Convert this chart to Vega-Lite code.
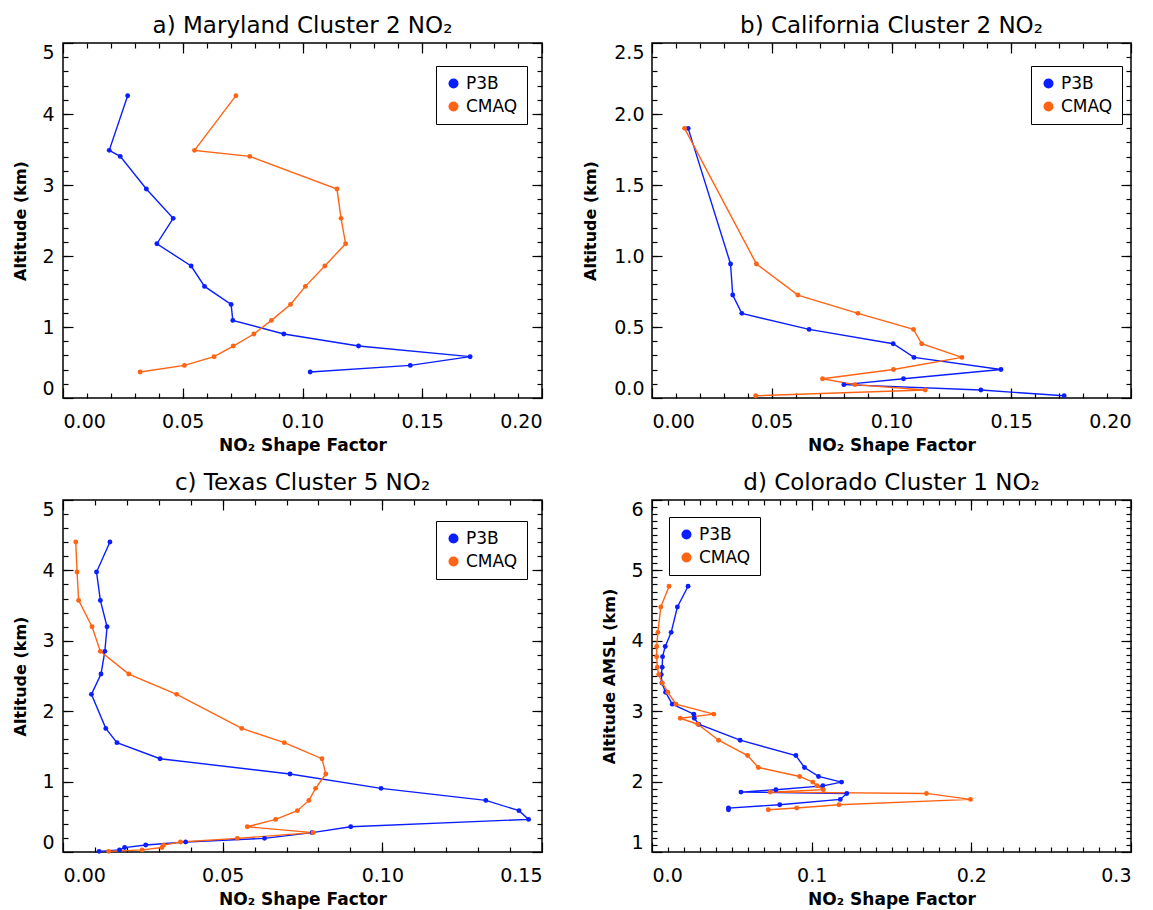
{
  "$schema": "https://vega.github.io/schema/vega-lite/v6.json",
  "background": "white",
  "padding": {"left": 12, "top": 14, "right": 5, "bottom": 5},
  "columns": 2,
  "bounds": "flush",
  "spacing": {"row": 102, "column": 110},
  "data": {"values": [
    {"panel": "a", "source": "P3B", "nsf": 0.0270, "alt": 4.258},
    {"panel": "a", "source": "P3B", "nsf": 0.0193, "alt": 3.488},
    {"panel": "a", "source": "P3B", "nsf": 0.0239, "alt": 3.403},
    {"panel": "a", "source": "P3B", "nsf": 0.0348, "alt": 2.943},
    {"panel": "a", "source": "P3B", "nsf": 0.0460, "alt": 2.530},
    {"panel": "a", "source": "P3B", "nsf": 0.0392, "alt": 2.173},
    {"panel": "a", "source": "P3B", "nsf": 0.0535, "alt": 1.859},
    {"panel": "a", "source": "P3B", "nsf": 0.0591, "alt": 1.572},
    {"panel": "a", "source": "P3B", "nsf": 0.0702, "alt": 1.318},
    {"panel": "a", "source": "P3B", "nsf": 0.0709, "alt": 1.093},
    {"panel": "a", "source": "P3B", "nsf": 0.0922, "alt": 0.901},
    {"panel": "a", "source": "P3B", "nsf": 0.1234, "alt": 0.732},
    {"panel": "a", "source": "P3B", "nsf": 0.1700, "alt": 0.582},
    {"panel": "a", "source": "P3B", "nsf": 0.1450, "alt": 0.459},
    {"panel": "a", "source": "P3B", "nsf": 0.1032, "alt": 0.366},
    {"panel": "a", "source": "CMAQ", "nsf": 0.0722, "alt": 4.258},
    {"panel": "a", "source": "CMAQ", "nsf": 0.0549, "alt": 3.488},
    {"panel": "a", "source": "CMAQ", "nsf": 0.0780, "alt": 3.403},
    {"panel": "a", "source": "CMAQ", "nsf": 0.1144, "alt": 2.943},
    {"panel": "a", "source": "CMAQ", "nsf": 0.1161, "alt": 2.530},
    {"panel": "a", "source": "CMAQ", "nsf": 0.1180, "alt": 2.173},
    {"panel": "a", "source": "CMAQ", "nsf": 0.1093, "alt": 1.859},
    {"panel": "a", "source": "CMAQ", "nsf": 0.1012, "alt": 1.572},
    {"panel": "a", "source": "CMAQ", "nsf": 0.0950, "alt": 1.318},
    {"panel": "a", "source": "CMAQ", "nsf": 0.0870, "alt": 1.093},
    {"panel": "a", "source": "CMAQ", "nsf": 0.0797, "alt": 0.901},
    {"panel": "a", "source": "CMAQ", "nsf": 0.0711, "alt": 0.732},
    {"panel": "a", "source": "CMAQ", "nsf": 0.0631, "alt": 0.582},
    {"panel": "a", "source": "CMAQ", "nsf": 0.0507, "alt": 0.459},
    {"panel": "a", "source": "CMAQ", "nsf": 0.0322, "alt": 0.366},

    {"panel": "b", "source": "P3B", "nsf": 0.0151, "alt": 1.899},
    {"panel": "b", "source": "P3B", "nsf": 0.0328, "alt": 0.944},
    {"panel": "b", "source": "P3B", "nsf": 0.0337, "alt": 0.725},
    {"panel": "b", "source": "P3B", "nsf": 0.0375, "alt": 0.596},
    {"panel": "b", "source": "P3B", "nsf": 0.0656, "alt": 0.483},
    {"panel": "b", "source": "P3B", "nsf": 0.1007, "alt": 0.382},
    {"panel": "b", "source": "P3B", "nsf": 0.1094, "alt": 0.286},
    {"panel": "b", "source": "P3B", "nsf": 0.1457, "alt": 0.201},
    {"panel": "b", "source": "P3B", "nsf": 0.1050, "alt": 0.136},
    {"panel": "b", "source": "P3B", "nsf": 0.0801, "alt": 0.094},
    {"panel": "b", "source": "P3B", "nsf": 0.1373, "alt": 0.056},
    {"panel": "b", "source": "P3B", "nsf": 0.1721, "alt": 0.016},
    {"panel": "b", "source": "CMAQ", "nsf": 0.0136, "alt": 1.899},
    {"panel": "b", "source": "CMAQ", "nsf": 0.0436, "alt": 0.944},
    {"panel": "b", "source": "CMAQ", "nsf": 0.0609, "alt": 0.725},
    {"panel": "b", "source": "CMAQ", "nsf": 0.0860, "alt": 0.596},
    {"panel": "b", "source": "CMAQ", "nsf": 0.1092, "alt": 0.483},
    {"panel": "b", "source": "CMAQ", "nsf": 0.1126, "alt": 0.382},
    {"panel": "b", "source": "CMAQ", "nsf": 0.1294, "alt": 0.286},
    {"panel": "b", "source": "CMAQ", "nsf": 0.1008, "alt": 0.201},
    {"panel": "b", "source": "CMAQ", "nsf": 0.0712, "alt": 0.136},
    {"panel": "b", "source": "CMAQ", "nsf": 0.0847, "alt": 0.094},
    {"panel": "b", "source": "CMAQ", "nsf": 0.1141, "alt": 0.056},
    {"panel": "b", "source": "CMAQ", "nsf": 0.0433, "alt": 0.016},

    {"panel": "c", "source": "P3B", "nsf": 0.0147, "alt": 4.403},
    {"panel": "c", "source": "P3B", "nsf": 0.0105, "alt": 3.977},
    {"panel": "c", "source": "P3B", "nsf": 0.0117, "alt": 3.574},
    {"panel": "c", "source": "P3B", "nsf": 0.0138, "alt": 3.200},
    {"panel": "c", "source": "P3B", "nsf": 0.0131, "alt": 2.850},
    {"panel": "c", "source": "P3B", "nsf": 0.0119, "alt": 2.528},
    {"panel": "c", "source": "P3B", "nsf": 0.0089, "alt": 2.239},
    {"panel": "c", "source": "P3B", "nsf": 0.0134, "alt": 1.756},
    {"panel": "c", "source": "P3B", "nsf": 0.0169, "alt": 1.553},
    {"panel": "c", "source": "P3B", "nsf": 0.0304, "alt": 1.325},
    {"panel": "c", "source": "P3B", "nsf": 0.0711, "alt": 1.108},
    {"panel": "c", "source": "P3B", "nsf": 0.0996, "alt": 0.904},
    {"panel": "c", "source": "P3B", "nsf": 0.1324, "alt": 0.733},
    {"panel": "c", "source": "P3B", "nsf": 0.1428, "alt": 0.587},
    {"panel": "c", "source": "P3B", "nsf": 0.1458, "alt": 0.463},
    {"panel": "c", "source": "P3B", "nsf": 0.0901, "alt": 0.359},
    {"panel": "c", "source": "P3B", "nsf": 0.0780, "alt": 0.275},
    {"panel": "c", "source": "P3B", "nsf": 0.0631, "alt": 0.194},
    {"panel": "c", "source": "P3B", "nsf": 0.0384, "alt": 0.142},
    {"panel": "c", "source": "P3B", "nsf": 0.0259, "alt": 0.099},
    {"panel": "c", "source": "P3B", "nsf": 0.0193, "alt": 0.063},
    {"panel": "c", "source": "P3B", "nsf": 0.0177, "alt": 0.030},
    {"panel": "c", "source": "P3B", "nsf": 0.0113, "alt": 0.009},
    {"panel": "c", "source": "CMAQ", "nsf": 0.0040, "alt": 4.403},
    {"panel": "c", "source": "CMAQ", "nsf": 0.0044, "alt": 3.977},
    {"panel": "c", "source": "CMAQ", "nsf": 0.0049, "alt": 3.574},
    {"panel": "c", "source": "CMAQ", "nsf": 0.0091, "alt": 3.200},
    {"panel": "c", "source": "CMAQ", "nsf": 0.0117, "alt": 2.850},
    {"panel": "c", "source": "CMAQ", "nsf": 0.0206, "alt": 2.528},
    {"panel": "c", "source": "CMAQ", "nsf": 0.0356, "alt": 2.239},
    {"panel": "c", "source": "CMAQ", "nsf": 0.0560, "alt": 1.756},
    {"panel": "c", "source": "CMAQ", "nsf": 0.0693, "alt": 1.553},
    {"panel": "c", "source": "CMAQ", "nsf": 0.0811, "alt": 1.325},
    {"panel": "c", "source": "CMAQ", "nsf": 0.0823, "alt": 1.108},
    {"panel": "c", "source": "CMAQ", "nsf": 0.0791, "alt": 0.904},
    {"panel": "c", "source": "CMAQ", "nsf": 0.0770, "alt": 0.733},
    {"panel": "c", "source": "CMAQ", "nsf": 0.0734, "alt": 0.587},
    {"panel": "c", "source": "CMAQ", "nsf": 0.0666, "alt": 0.463},
    {"panel": "c", "source": "CMAQ", "nsf": 0.0577, "alt": 0.359},
    {"panel": "c", "source": "CMAQ", "nsf": 0.0783, "alt": 0.275},
    {"panel": "c", "source": "CMAQ", "nsf": 0.0546, "alt": 0.194},
    {"panel": "c", "source": "CMAQ", "nsf": 0.0368, "alt": 0.142},
    {"panel": "c", "source": "CMAQ", "nsf": 0.0315, "alt": 0.099},
    {"panel": "c", "source": "CMAQ", "nsf": 0.0310, "alt": 0.063},
    {"panel": "c", "source": "CMAQ", "nsf": 0.0248, "alt": 0.030},
    {"panel": "c", "source": "CMAQ", "nsf": 0.0143, "alt": 0.009},

    {"panel": "d", "source": "P3B", "nsf": 0.0226, "alt": 4.775},
    {"panel": "d", "source": "P3B", "nsf": 0.0159, "alt": 4.480},
    {"panel": "d", "source": "P3B", "nsf": 0.0120, "alt": 4.120},
    {"panel": "d", "source": "P3B", "nsf": 0.0083, "alt": 3.920},
    {"panel": "d", "source": "P3B", "nsf": 0.0066, "alt": 3.775},
    {"panel": "d", "source": "P3B", "nsf": 0.0064, "alt": 3.625},
    {"panel": "d", "source": "P3B", "nsf": 0.0058, "alt": 3.520},
    {"panel": "d", "source": "P3B", "nsf": 0.0062, "alt": 3.400},
    {"panel": "d", "source": "P3B", "nsf": 0.0085, "alt": 3.270},
    {"panel": "d", "source": "P3B", "nsf": 0.0127, "alt": 3.100},
    {"panel": "d", "source": "P3B", "nsf": 0.0262, "alt": 2.958},
    {"panel": "d", "source": "P3B", "nsf": 0.0265, "alt": 2.900},
    {"panel": "d", "source": "P3B", "nsf": 0.0292, "alt": 2.815},
    {"panel": "d", "source": "P3B", "nsf": 0.0552, "alt": 2.588},
    {"panel": "d", "source": "P3B", "nsf": 0.0901, "alt": 2.370},
    {"panel": "d", "source": "P3B", "nsf": 0.0955, "alt": 2.200},
    {"panel": "d", "source": "P3B", "nsf": 0.1043, "alt": 2.073},
    {"panel": "d", "source": "P3B", "nsf": 0.1187, "alt": 1.993},
    {"panel": "d", "source": "P3B", "nsf": 0.1070, "alt": 1.940},
    {"panel": "d", "source": "P3B", "nsf": 0.0776, "alt": 1.884},
    {"panel": "d", "source": "P3B", "nsf": 0.0557, "alt": 1.851},
    {"panel": "d", "source": "P3B", "nsf": 0.1220, "alt": 1.832},
    {"panel": "d", "source": "P3B", "nsf": 0.1179, "alt": 1.747},
    {"panel": "d", "source": "P3B", "nsf": 0.0800, "alt": 1.671},
    {"panel": "d", "source": "P3B", "nsf": 0.0479, "alt": 1.624},
    {"panel": "d", "source": "P3B", "nsf": 0.0479, "alt": 1.600},
    {"panel": "d", "source": "CMAQ", "nsf": 0.0107, "alt": 4.775},
    {"panel": "d", "source": "CMAQ", "nsf": 0.0055, "alt": 4.480},
    {"panel": "d", "source": "CMAQ", "nsf": 0.0037, "alt": 4.120},
    {"panel": "d", "source": "CMAQ", "nsf": 0.0029, "alt": 3.920},
    {"panel": "d", "source": "CMAQ", "nsf": 0.0029, "alt": 3.775},
    {"panel": "d", "source": "CMAQ", "nsf": 0.0033, "alt": 3.625},
    {"panel": "d", "source": "CMAQ", "nsf": 0.0042, "alt": 3.520},
    {"panel": "d", "source": "CMAQ", "nsf": 0.0065, "alt": 3.400},
    {"panel": "d", "source": "CMAQ", "nsf": 0.0099, "alt": 3.270},
    {"panel": "d", "source": "CMAQ", "nsf": 0.0150, "alt": 3.100},
    {"panel": "d", "source": "CMAQ", "nsf": 0.0387, "alt": 2.958},
    {"panel": "d", "source": "CMAQ", "nsf": 0.0177, "alt": 2.900},
    {"panel": "d", "source": "CMAQ", "nsf": 0.0287, "alt": 2.815},
    {"panel": "d", "source": "CMAQ", "nsf": 0.0417, "alt": 2.588},
    {"panel": "d", "source": "CMAQ", "nsf": 0.0599, "alt": 2.370},
    {"panel": "d", "source": "CMAQ", "nsf": 0.0666, "alt": 2.200},
    {"panel": "d", "source": "CMAQ", "nsf": 0.0925, "alt": 2.073},
    {"panel": "d", "source": "CMAQ", "nsf": 0.1007, "alt": 1.993},
    {"panel": "d", "source": "CMAQ", "nsf": 0.1033, "alt": 1.940},
    {"panel": "d", "source": "CMAQ", "nsf": 0.1073, "alt": 1.884},
    {"panel": "d", "source": "CMAQ", "nsf": 0.0740, "alt": 1.851},
    {"panel": "d", "source": "CMAQ", "nsf": 0.1719, "alt": 1.832},
    {"panel": "d", "source": "CMAQ", "nsf": 0.1995, "alt": 1.747},
    {"panel": "d", "source": "CMAQ", "nsf": 0.1171, "alt": 1.671},
    {"panel": "d", "source": "CMAQ", "nsf": 0.0906, "alt": 1.624},
    {"panel": "d", "source": "CMAQ", "nsf": 0.0728, "alt": 1.600}
  ]},
  "concat": [
    {
      "width": 479, "height": 355,
      "title": "a) Maryland Cluster 2 NO₂",
      "transform": [{"filter": "datum.panel == 'a'"}],
      "resolve": {"scale": {"x": "independent", "y": "independent"}, "axis": {"x": "independent", "y": "independent"}},
      "layer": [
        {"mark": {"type": "line", "strokeWidth": 1.4},
         "encoding": {
           "x": {"field": "nsf", "type": "quantitative", "scale": {"domain": [0, 0.2], "nice": false}, "axis": {"orient": "bottom", "offset": 0, "title": "NO₂ Shape Factor", "values": [0, 0.05, 0.1, 0.15, 0.2], "format": ".2f", "tickSize": -10, "labelPadding": 24, "titlePadding": 6}},
           "y": {"field": "alt", "type": "quantitative", "scale": {"domain": [0, 5], "nice": false}, "axis": {"orient": "left", "offset": 0, "title": "Altitude (km)", "values": [0, 1, 2, 3, 4, 5], "format": ".0f", "tickSize": -10, "labelPadding": 19, "titlePadding": 13, "labelFlush": true}},
           "order": {"field": "alt", "type": "quantitative"},
           "stroke": {"field": "source", "type": "nominal", "scale": {"domain": ["P3B", "CMAQ"], "range": ["#0a1eff", "#ff6414"]}, "legend": null}
         }},
        {"mark": {"type": "point", "filled": true, "size": 24, "opacity": 1},
         "encoding": {
           "x": {"field": "nsf", "type": "quantitative", "scale": {"domain": [0, 0.2], "nice": false}, "axis": {"orient": "top", "offset": 0, "title": null, "labels": false, "values": [0, 0.05, 0.1, 0.15, 0.2], "tickSize": -10}},
           "y": {"field": "alt", "type": "quantitative", "scale": {"domain": [0, 5], "nice": false}, "axis": {"orient": "right", "offset": 0, "title": null, "labels": false, "values": [0, 1, 2, 3, 4, 5], "tickSize": -10}},
           "color": {"field": "source", "type": "nominal", "scale": {"domain": ["P3B", "CMAQ"], "range": ["#0a1eff", "#ff6414"]},
             "legend": {"orient": "none", "legendX": 373, "legendY": 23, "title": null}}
         }},
        {"mark": {"type": "point", "opacity": 0},
         "encoding": {
           "x": {"field": "nsf", "type": "quantitative", "scale": {"domain": [0, 0.2], "nice": false}, "axis": {"orient": "bottom", "offset": 0, "title": null, "labels": false, "tickSize": -5, "values": [0.01,0.02,0.03,0.04,0.05,0.06,0.07,0.08,0.09,0.1,0.11,0.12,0.13,0.14,0.15,0.16,0.17,0.18,0.19]}},
           "y": {"field": "alt", "type": "quantitative", "scale": {"domain": [0, 5], "nice": false}, "axis": {"orient": "left", "offset": 0, "title": null, "labels": false, "tickSize": -5, "values": [0.2,0.4,0.6,0.8,1,1.2,1.4,1.6,1.8,2,2.2,2.4,2.6,2.8,3,3.2,3.4,3.6,3.8,4,4.2,4.4,4.6,4.8]}}
         }},
        {"mark": {"type": "point", "opacity": 0},
         "encoding": {
           "x": {"field": "nsf", "type": "quantitative", "scale": {"domain": [0, 0.2], "nice": false}, "axis": {"orient": "top", "offset": 0, "title": null, "labels": false, "tickSize": -5, "values": [0.01,0.02,0.03,0.04,0.05,0.06,0.07,0.08,0.09,0.1,0.11,0.12,0.13,0.14,0.15,0.16,0.17,0.18,0.19]}},
           "y": {"field": "alt", "type": "quantitative", "scale": {"domain": [0, 5], "nice": false}, "axis": {"orient": "right", "offset": 0, "title": null, "labels": false, "tickSize": -5, "values": [0.2,0.4,0.6,0.8,1,1.2,1.4,1.6,1.8,2,2.2,2.4,2.6,2.8,3,3.2,3.4,3.6,3.8,4,4.2,4.4,4.6,4.8]}}
         }}
      ]
    },
    {
      "width": 479, "height": 355,
      "title": "b) California Cluster 2 NO₂",
      "transform": [{"filter": "datum.panel == 'b'"}],
      "resolve": {"scale": {"x": "independent", "y": "independent"}, "axis": {"x": "independent", "y": "independent"}},
      "layer": [
        {"mark": {"type": "line", "strokeWidth": 1.4},
         "encoding": {
           "x": {"field": "nsf", "type": "quantitative", "scale": {"domain": [0, 0.2], "nice": false}, "axis": {"orient": "bottom", "offset": 0, "title": "NO₂ Shape Factor", "values": [0, 0.05, 0.1, 0.15, 0.2], "format": ".2f", "tickSize": -10, "labelPadding": 24, "titlePadding": 6}},
           "y": {"field": "alt", "type": "quantitative", "scale": {"domain": [0, 2.5], "nice": false}, "axis": {"orient": "left", "offset": 0, "title": "Altitude (km)", "values": [0, 0.5, 1, 1.5, 2, 2.5], "format": ".1f", "tickSize": -10, "labelPadding": 18, "titlePadding": 15, "labelFlush": true}},
           "order": {"field": "alt", "type": "quantitative"},
           "stroke": {"field": "source", "type": "nominal", "scale": {"domain": ["P3B", "CMAQ"], "range": ["#0a1eff", "#ff6414"]}, "legend": null}
         }},
        {"mark": {"type": "point", "filled": true, "size": 24, "opacity": 1},
         "encoding": {
           "x": {"field": "nsf", "type": "quantitative", "scale": {"domain": [0, 0.2], "nice": false}, "axis": {"orient": "top", "offset": 0, "title": null, "labels": false, "values": [0, 0.05, 0.1, 0.15, 0.2], "tickSize": -10}},
           "y": {"field": "alt", "type": "quantitative", "scale": {"domain": [0, 2.5], "nice": false}, "axis": {"orient": "right", "offset": 0, "title": null, "labels": false, "values": [0, 0.5, 1, 1.5, 2, 2.5], "tickSize": -10}},
           "color": {"field": "source", "type": "nominal", "scale": {"domain": ["P3B", "CMAQ"], "range": ["#0a1eff", "#ff6414"]},
             "legend": {"orient": "none", "legendX": 379, "legendY": 23, "title": null, "direction": "vertical"}}
         }},
        {"mark": {"type": "point", "opacity": 0},
         "encoding": {
           "x": {"field": "nsf", "type": "quantitative", "scale": {"domain": [0, 0.2], "nice": false}, "axis": {"orient": "bottom", "offset": 0, "title": null, "labels": false, "tickSize": -5, "values": [0.01,0.02,0.03,0.04,0.05,0.06,0.07,0.08,0.09,0.1,0.11,0.12,0.13,0.14,0.15,0.16,0.17,0.18,0.19]}},
           "y": {"field": "alt", "type": "quantitative", "scale": {"domain": [0, 2.5], "nice": false}, "axis": {"orient": "left", "offset": 0, "title": null, "labels": false, "tickSize": -5, "values": [0.1,0.2,0.3,0.4,0.5,0.6,0.7,0.8,0.9,1,1.1,1.2,1.3,1.4,1.5,1.6,1.7,1.8,1.9,2,2.1,2.2,2.3,2.4]}}
         }},
        {"mark": {"type": "point", "opacity": 0},
         "encoding": {
           "x": {"field": "nsf", "type": "quantitative", "scale": {"domain": [0, 0.2], "nice": false}, "axis": {"orient": "top", "offset": 0, "title": null, "labels": false, "tickSize": -5, "values": [0.01,0.02,0.03,0.04,0.05,0.06,0.07,0.08,0.09,0.1,0.11,0.12,0.13,0.14,0.15,0.16,0.17,0.18,0.19]}},
           "y": {"field": "alt", "type": "quantitative", "scale": {"domain": [0, 2.5], "nice": false}, "axis": {"orient": "right", "offset": 0, "title": null, "labels": false, "tickSize": -5, "values": [0.1,0.2,0.3,0.4,0.5,0.6,0.7,0.8,0.9,1,1.1,1.2,1.3,1.4,1.5,1.6,1.7,1.8,1.9,2,2.1,2.2,2.3,2.4]}}
         }}
      ]
    },
    {
      "width": 479, "height": 352,
      "title": "c) Texas Cluster 5 NO₂",
      "transform": [{"filter": "datum.panel == 'c'"}],
      "resolve": {"scale": {"x": "independent", "y": "independent"}, "axis": {"x": "independent", "y": "independent"}},
      "layer": [
        {"mark": {"type": "line", "strokeWidth": 1.4},
         "encoding": {
           "x": {"field": "nsf", "type": "quantitative", "scale": {"domain": [0, 0.15], "nice": false}, "axis": {"orient": "bottom", "offset": 0, "title": "NO₂ Shape Factor", "values": [0, 0.05, 0.1, 0.15], "format": ".2f", "tickSize": -10, "labelPadding": 24, "titlePadding": 6}},
           "y": {"field": "alt", "type": "quantitative", "scale": {"domain": [0, 5], "nice": false}, "axis": {"orient": "left", "offset": 0, "title": "Altitude (km)", "values": [0, 1, 2, 3, 4, 5], "format": ".0f", "tickSize": -10, "labelPadding": 19, "titlePadding": 13, "labelFlush": true}},
           "order": {"field": "alt", "type": "quantitative"},
           "stroke": {"field": "source", "type": "nominal", "scale": {"domain": ["P3B", "CMAQ"], "range": ["#0a1eff", "#ff6414"]}, "legend": null}
         }},
        {"mark": {"type": "point", "filled": true, "size": 24, "opacity": 1},
         "encoding": {
           "x": {"field": "nsf", "type": "quantitative", "scale": {"domain": [0, 0.15], "nice": false}, "axis": {"orient": "top", "offset": 0, "title": null, "labels": false, "values": [0, 0.05, 0.1, 0.15], "tickSize": -10}},
           "y": {"field": "alt", "type": "quantitative", "scale": {"domain": [0, 5], "nice": false}, "axis": {"orient": "right", "offset": 0, "title": null, "labels": false, "values": [0, 1, 2, 3, 4, 5], "tickSize": -10}},
           "color": {"field": "source", "type": "nominal", "scale": {"domain": ["P3B", "CMAQ"], "range": ["#0a1eff", "#ff6414"]},
             "legend": {"orient": "none", "legendX": 373, "legendY": 21, "title": null}}
         }},
        {"mark": {"type": "point", "opacity": 0},
         "encoding": {
           "x": {"field": "nsf", "type": "quantitative", "scale": {"domain": [0, 0.15], "nice": false}, "axis": {"orient": "bottom", "offset": 0, "title": null, "labels": false, "tickSize": -5, "values": [0.01,0.02,0.03,0.04,0.05,0.06,0.07,0.08,0.09,0.1,0.11,0.12,0.13,0.14]}},
           "y": {"field": "alt", "type": "quantitative", "scale": {"domain": [0, 5], "nice": false}, "axis": {"orient": "left", "offset": 0, "title": null, "labels": false, "tickSize": -5, "values": [0.2,0.4,0.6,0.8,1,1.2,1.4,1.6,1.8,2,2.2,2.4,2.6,2.8,3,3.2,3.4,3.6,3.8,4,4.2,4.4,4.6,4.8]}}
         }},
        {"mark": {"type": "point", "opacity": 0},
         "encoding": {
           "x": {"field": "nsf", "type": "quantitative", "scale": {"domain": [0, 0.15], "nice": false}, "axis": {"orient": "top", "offset": 0, "title": null, "labels": false, "tickSize": -5, "values": [0.01,0.02,0.03,0.04,0.05,0.06,0.07,0.08,0.09,0.1,0.11,0.12,0.13,0.14]}},
           "y": {"field": "alt", "type": "quantitative", "scale": {"domain": [0, 5], "nice": false}, "axis": {"orient": "right", "offset": 0, "title": null, "labels": false, "tickSize": -5, "values": [0.2,0.4,0.6,0.8,1,1.2,1.4,1.6,1.8,2,2.2,2.4,2.6,2.8,3,3.2,3.4,3.6,3.8,4,4.2,4.4,4.6,4.8]}}
         }}
      ]
    },
    {
      "width": 479, "height": 352,
      "title": "d) Colorado Cluster 1 NO₂",
      "transform": [{"filter": "datum.panel == 'd'"}],
      "resolve": {"scale": {"x": "independent", "y": "independent"}, "axis": {"x": "independent", "y": "independent"}},
      "layer": [
        {"mark": {"type": "line", "strokeWidth": 1.4},
         "encoding": {
           "x": {"field": "nsf", "type": "quantitative", "scale": {"domain": [0, 0.3], "nice": false}, "axis": {"orient": "bottom", "offset": 0, "title": "NO₂ Shape Factor", "values": [0, 0.1, 0.2, 0.3], "format": ".1f", "tickSize": -10, "labelPadding": 24, "titlePadding": 6}},
           "y": {"field": "alt", "type": "quantitative", "scale": {"domain": [1, 6], "nice": false}, "axis": {"orient": "left", "offset": 0, "title": "Altitude AMSL (km)", "values": [1, 2, 3, 4, 5, 6], "format": ".0f", "tickSize": -10, "labelPadding": 19, "titlePadding": 13, "labelFlush": true}},
           "order": {"field": "alt", "type": "quantitative"},
           "stroke": {"field": "source", "type": "nominal", "scale": {"domain": ["P3B", "CMAQ"], "range": ["#0a1eff", "#ff6414"]}, "legend": null}
         }},
        {"mark": {"type": "point", "filled": true, "size": 24, "opacity": 1},
         "encoding": {
           "x": {"field": "nsf", "type": "quantitative", "scale": {"domain": [0, 0.3], "nice": false}, "axis": {"orient": "top", "offset": 0, "title": null, "labels": false, "values": [0, 0.1, 0.2, 0.3], "tickSize": -10}},
           "y": {"field": "alt", "type": "quantitative", "scale": {"domain": [1, 6], "nice": false}, "axis": {"orient": "right", "offset": 0, "title": null, "labels": false, "values": [1, 2, 3, 4, 5, 6], "tickSize": -10}},
           "color": {"field": "source", "type": "nominal", "scale": {"domain": ["P3B", "CMAQ"], "range": ["#0a1eff", "#ff6414"]},
             "legend": {"orient": "top-left", "offset": 17, "title": null}}
         }},
        {"mark": {"type": "point", "opacity": 0},
         "encoding": {
           "x": {"field": "nsf", "type": "quantitative", "scale": {"domain": [0, 0.3], "nice": false}, "axis": {"orient": "bottom", "offset": 0, "title": null, "labels": false, "tickSize": -5, "values": [0.01,0.02,0.03,0.04,0.05,0.06,0.07,0.08,0.09,0.1,0.11,0.12,0.13,0.14,0.15,0.16,0.17,0.18,0.19,0.2,0.21,0.22,0.23,0.24,0.25,0.26,0.27,0.28,0.29]}},
           "y": {"field": "alt", "type": "quantitative", "scale": {"domain": [1, 6], "nice": false}, "axis": {"orient": "left", "offset": 0, "title": null, "labels": false, "tickSize": -5, "values": [1.1,1.2,1.3,1.4,1.5,1.6,1.7,1.8,1.9,2,2.1,2.2,2.3,2.4,2.5,2.6,2.7,2.8,2.9,3,3.1,3.2,3.3,3.4,3.5,3.6,3.7,3.8,3.9,4,4.1,4.2,4.3,4.4,4.5,4.6,4.7,4.8,4.9,5,5.1,5.2,5.3,5.4,5.5,5.6,5.7,5.8,5.9]}}
         }},
        {"mark": {"type": "point", "opacity": 0},
         "encoding": {
           "x": {"field": "nsf", "type": "quantitative", "scale": {"domain": [0, 0.3], "nice": false}, "axis": {"orient": "top", "offset": 0, "title": null, "labels": false, "tickSize": -5, "values": [0.01,0.02,0.03,0.04,0.05,0.06,0.07,0.08,0.09,0.1,0.11,0.12,0.13,0.14,0.15,0.16,0.17,0.18,0.19,0.2,0.21,0.22,0.23,0.24,0.25,0.26,0.27,0.28,0.29]}},
           "y": {"field": "alt", "type": "quantitative", "scale": {"domain": [1, 6], "nice": false}, "axis": {"orient": "right", "offset": 0, "title": null, "labels": false, "tickSize": -5, "values": [1.1,1.2,1.3,1.4,1.5,1.6,1.7,1.8,1.9,2,2.1,2.2,2.3,2.4,2.5,2.6,2.7,2.8,2.9,3,3.1,3.2,3.3,3.4,3.5,3.6,3.7,3.8,3.9,4,4.1,4.2,4.3,4.4,4.5,4.6,4.7,4.8,4.9,5,5.1,5.2,5.3,5.4,5.5,5.6,5.7,5.8,5.9]}}
         }}
      ]
    }
  ],
  "config": {
    "font": "DejaVu Sans",
    "view": {"stroke": "black", "strokeWidth": 1.5},
    "axis": {"grid": false, "domain": false, "labelFont": "DejaVu Sans", "labelFontSize": 19, "labelColor": "black", "tickColor": "black", "tickWidth": 1.2, "titleFont": "DejaVu Sans", "titleFontSize": 16, "titleFontWeight": "bold", "titleColor": "black"},
    "axisBottom": {"titleFontSize": 17},
    "title": {"font": "DejaVu Sans", "fontSize": 23, "fontWeight": "normal", "color": "black", "anchor": "middle", "frame": "group", "baseline": "alphabetic", "offset": 4},
    "legend": {"labelFont": "DejaVu Sans", "labelFontSize": 17, "labelColor": "black", "symbolType": "circle", "symbolSize": 100, "symbolStrokeWidth": 0, "strokeColor": "black", "fillColor": "white", "padding": 9, "rowPadding": 5}
  }
}
